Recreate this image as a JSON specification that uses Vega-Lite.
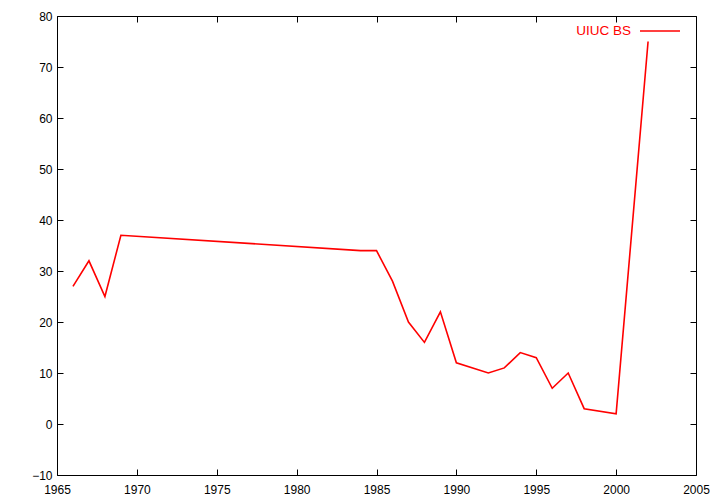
{
  "$schema": "https://vega.github.io/schema/vega-lite/v6.json",
  "width": 639,
  "height": 459,
  "autosize": {"type": "none"},
  "padding": {"left": 57, "top": 16, "right": 24, "bottom": 29},
  "background": "white",
  "config": {
    "view": {"stroke": "black", "strokeWidth": 1},
    "font": "Liberation Sans",
    "axis": {"grid": false, "domain": false, "tickColor": "black", "tickSize": -6, "labelFontSize": 12, "labelColor": "black", "labelFont": "Liberation Sans", "title": null}
  },
  "data": {"values": [
    {"year": 1966, "value": 27, "series": "UIUC BS"},
    {"year": 1967, "value": 32, "series": "UIUC BS"},
    {"year": 1968, "value": 25, "series": "UIUC BS"},
    {"year": 1969, "value": 37, "series": "UIUC BS"},
    {"year": 1984, "value": 34, "series": "UIUC BS"},
    {"year": 1985, "value": 34, "series": "UIUC BS"},
    {"year": 1986, "value": 28, "series": "UIUC BS"},
    {"year": 1987, "value": 20, "series": "UIUC BS"},
    {"year": 1988, "value": 16, "series": "UIUC BS"},
    {"year": 1989, "value": 22, "series": "UIUC BS"},
    {"year": 1990, "value": 12, "series": "UIUC BS"},
    {"year": 1992, "value": 10, "series": "UIUC BS"},
    {"year": 1993, "value": 11, "series": "UIUC BS"},
    {"year": 1994, "value": 14, "series": "UIUC BS"},
    {"year": 1995, "value": 13, "series": "UIUC BS"},
    {"year": 1996, "value": 7, "series": "UIUC BS"},
    {"year": 1997, "value": 10, "series": "UIUC BS"},
    {"year": 1998, "value": 3, "series": "UIUC BS"},
    {"year": 2000, "value": 2, "series": "UIUC BS"},
    {"year": 2002, "value": 75, "series": "UIUC BS"}
  ]},
  "layer": [
    {
      "mark": {"type": "line", "strokeWidth": 1.6, "clip": true},
      "encoding": {
        "x": {"field": "year", "type": "quantitative", "scale": {"domain": [1965, 2005], "nice": false, "zero": false},
              "axis": {"orient": "bottom", "values": [1965, 1970, 1975, 1980, 1985, 1990, 1995, 2000, 2005], "format": "d", "labelPadding": 15, "labelFlush": false, "labelOverlap": false}},
        "y": {"field": "value", "type": "quantitative", "scale": {"domain": [-10, 80], "nice": false, "zero": false},
              "axis": {"orient": "left", "values": [-10, 0, 10, 20, 30, 40, 50, 60, 70, 80], "labelPadding": 11, "labelFlush": false, "labelOverlap": false}},
        "color": {"field": "series", "type": "nominal", "scale": {"range": ["#ff0000"]},
                  "legend": {"orient": "none", "legendX": 582, "legendY": -6, "title": null, "symbolType": "stroke", "symbolSize": 1600, "symbolStrokeWidth": 1.6, "labelColor": "#ff0000", "labelFontSize": 13.5, "labelAlign": "right", "labelOffset": -50}}
      }
    },
    {
      "mark": {"type": "line", "strokeOpacity": 0},
      "encoding": {
        "x": {"field": "year", "type": "quantitative", "axis": {"orient": "top", "values": [1965, 1970, 1975, 1980, 1985, 1990, 1995, 2000, 2005], "labels": false}},
        "y": {"field": "value", "type": "quantitative", "axis": {"orient": "right", "values": [-10, 0, 10, 20, 30, 40, 50, 60, 70, 80], "labels": false}}
      }
    }
  ],
  "resolve": {"axis": {"x": "independent", "y": "independent"}}
}
